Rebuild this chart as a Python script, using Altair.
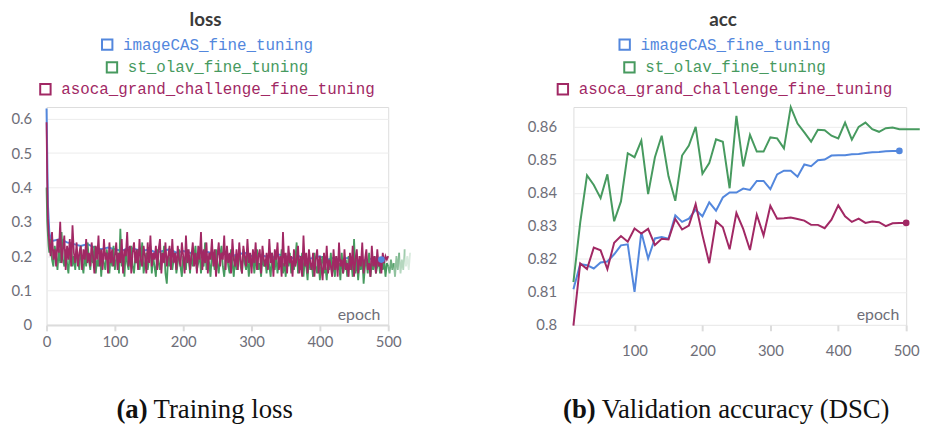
import altair as alt
import pandas as pd

RUNS = ["imageCAS_fine_tuning", "st_olav_fine_tuning", "asoca_grand_challenge_fine_tuning"]
COLORS = ["#5387DD", "#479A5F", "#A12864"]

# ---------------- training loss ----------------
loss_blue_epoch = [0, 2, 4, 6] + list(range(10, 500, 10))
loss_blue = [0.63, 0.35, 0.27, 0.25,
             0.245, 0.25, 0.24, 0.235, 0.23, 0.235, 0.225, 0.22, 0.225, 0.22,
             0.215, 0.225, 0.22, 0.215, 0.22, 0.21, 0.215, 0.22, 0.21, 0.215,
             0.21, 0.205, 0.215, 0.21, 0.205, 0.21, 0.20, 0.205, 0.21, 0.20,
             0.205, 0.20, 0.195, 0.205, 0.20, 0.195, 0.20, 0.19, 0.195, 0.20,
             0.19, 0.195, 0.19, 0.195, 0.19, 0.185, 0.19, 0.195, 0.19]

loss_epoch = [0, 1, 2, 3] + list(range(4, 502, 2))
loss_green = [0.40, 0.30, 0.26, 0.23,
              0.21, 0.25, 0.19, 0.17, 0.23, 0.20, 0.16, 0.22, 0.18, 0.27,
              0.19, 0.17, 0.22, 0.18, 0.15, 0.21, 0.24, 0.17, 0.20, 0.16,
              0.22, 0.19, 0.16, 0.23, 0.18, 0.15, 0.21, 0.17, 0.24, 0.19,
              0.16, 0.21, 0.18, 0.23, 0.15, 0.19, 0.17, 0.22, 0.14, 0.20,
              0.18, 0.16, 0.22, 0.19, 0.15, 0.21, 0.17, 0.23, 0.16, 0.19,
              0.21, 0.15, 0.28, 0.17, 0.20, 0.14, 0.22, 0.18, 0.16, 0.21,
              0.23, 0.17, 0.15, 0.20, 0.18, 0.22, 0.16, 0.19, 0.24, 0.15,
              0.18, 0.21, 0.16, 0.19, 0.23, 0.15, 0.20, 0.17, 0.14, 0.22,
              0.18, 0.16, 0.21, 0.19, 0.23, 0.15, 0.12, 0.20, 0.17, 0.22,
              0.16, 0.19, 0.21, 0.15, 0.18, 0.22, 0.17, 0.14, 0.20, 0.18,
              0.16, 0.22, 0.19, 0.15, 0.21, 0.17, 0.20, 0.23, 0.16, 0.18,
              0.21, 0.15, 0.19, 0.17, 0.24, 0.16, 0.20, 0.18, 0.14, 0.21,
              0.19, 0.16, 0.22, 0.18, 0.15, 0.20, 0.23, 0.17, 0.14, 0.19,
              0.21, 0.17, 0.15, 0.22, 0.18, 0.14, 0.20, 0.16, 0.19, 0.21,
              0.17, 0.15, 0.22, 0.18, 0.16, 0.20, 0.14, 0.19, 0.17, 0.21,
              0.15, 0.19, 0.22, 0.16, 0.18, 0.14, 0.21, 0.17, 0.19, 0.15,
              0.20, 0.17, 0.14, 0.21, 0.18, 0.16, 0.20, 0.15, 0.19, 0.17,
              0.22, 0.15, 0.18, 0.14, 0.20, 0.17, 0.21, 0.15, 0.18, 0.16,
              0.19, 0.24, 0.15, 0.18, 0.16, 0.21, 0.14, 0.19, 0.17, 0.13,
              0.20, 0.16, 0.18, 0.14, 0.21, 0.17, 0.15, 0.19, 0.13, 0.18,
              0.20, 0.15, 0.17, 0.13, 0.19, 0.16, 0.21, 0.15, 0.18, 0.14,
              0.20, 0.16, 0.18, 0.13, 0.21, 0.15, 0.17, 0.19, 0.14, 0.20,
              0.16, 0.18, 0.14, 0.25, 0.15, 0.19, 0.13, 0.18, 0.16, 0.20,
              0.12, 0.17, 0.19, 0.15, 0.21, 0.14, 0.18, 0.16, 0.20, 0.15,
              0.17, 0.19, 0.15, 0.18, 0.16, 0.19, 0.14, 0.18, 0.17]
loss_magenta = [0.59, 0.42, 0.31, 0.27,
                0.24, 0.20, 0.27, 0.19, 0.22, 0.17, 0.25, 0.21, 0.30, 0.18,
                0.22, 0.26, 0.16, 0.23, 0.19, 0.25, 0.17, 0.29, 0.21, 0.18,
                0.24, 0.17, 0.21, 0.23, 0.16, 0.22, 0.19, 0.25, 0.18, 0.21,
                0.17, 0.24, 0.20, 0.15, 0.23, 0.19, 0.26, 0.17, 0.22, 0.16,
                0.25, 0.19, 0.21, 0.15, 0.24, 0.18, 0.22, 0.17, 0.20, 0.24,
                0.16, 0.21, 0.18, 0.25, 0.15, 0.22, 0.20, 0.27, 0.17, 0.23,
                0.15, 0.21, 0.24, 0.18, 0.22, 0.16, 0.25, 0.19, 0.17, 0.23,
                0.20, 0.15, 0.24, 0.18, 0.26, 0.17, 0.21, 0.19, 0.23, 0.16,
                0.22, 0.25, 0.15, 0.21, 0.18, 0.24, 0.17, 0.20, 0.23, 0.16,
                0.25, 0.18, 0.21, 0.16, 0.23, 0.19, 0.17, 0.24, 0.20, 0.15,
                0.26, 0.18, 0.22, 0.16, 0.20, 0.24, 0.17, 0.21, 0.15, 0.23,
                0.19, 0.27, 0.16, 0.22, 0.18, 0.24, 0.15, 0.21, 0.19, 0.25,
                0.17, 0.22, 0.14, 0.20, 0.24, 0.17, 0.21, 0.19, 0.26, 0.16,
                0.23, 0.18, 0.21, 0.15, 0.25, 0.19, 0.17, 0.22, 0.16, 0.24,
                0.19, 0.15, 0.23, 0.20, 0.17, 0.25, 0.18, 0.21, 0.15, 0.22,
                0.18, 0.24, 0.16, 0.20, 0.22, 0.15, 0.23, 0.19, 0.17, 0.21,
                0.16, 0.25, 0.18, 0.21, 0.14, 0.22, 0.19, 0.24, 0.16, 0.20,
                0.14, 0.27, 0.17, 0.21, 0.15, 0.23, 0.18, 0.20, 0.14, 0.22,
                0.17, 0.19, 0.23, 0.15, 0.20, 0.14, 0.26, 0.17, 0.21, 0.15,
                0.22, 0.18, 0.16, 0.21, 0.14, 0.19, 0.22, 0.15, 0.20, 0.17,
                0.13, 0.21, 0.16, 0.23, 0.15, 0.19, 0.17, 0.14, 0.22, 0.16,
                0.20, 0.14, 0.24, 0.17, 0.19, 0.15, 0.22, 0.16, 0.18, 0.14,
                0.21, 0.16, 0.23, 0.14, 0.19, 0.22, 0.15, 0.20, 0.17, 0.24,
                0.15, 0.19, 0.22, 0.16, 0.18, 0.14, 0.23, 0.17, 0.20, 0.15,
                0.22, 0.17, 0.19, 0.15, 0.21, 0.18, 0.20, 0.19, 0.20]
# green run continues past epoch 500 (fading tail)
loss_green_tail_epoch = list(range(500, 534, 2))
loss_green_tail = [0.17, 0.15, 0.19, 0.16, 0.18, 0.14, 0.20, 0.16, 0.21,
                   0.15, 0.19, 0.16, 0.22, 0.17, 0.20, 0.16, 0.21]
TAIL_SEGMENTS = [(500, 508, 0.8), (508, 516, 0.6), (516, 524, 0.4), (524, 532, 0.2)]

# ---------------- validation accuracy ----------------
acc_epoch = list(range(10, 510, 10))
acc_blue = [0.8108, 0.8184, 0.8181, 0.8171, 0.8189, 0.8192, 0.8214, 0.8241, 0.8244, 0.8100,
            0.8281, 0.8201, 0.8262, 0.8266, 0.8261, 0.8332, 0.8312, 0.8322, 0.8349, 0.8329,
            0.8371, 0.8346, 0.8386, 0.8401, 0.8401, 0.8413, 0.8409, 0.8436, 0.8436, 0.8411,
            0.8456, 0.8467, 0.8467, 0.8449, 0.8486, 0.8481, 0.8499, 0.8501, 0.8513, 0.8514,
            0.8514, 0.8517, 0.8518, 0.8521, 0.8523, 0.8524, 0.8526, 0.8527, 0.8527]
acc_green_epoch = list(range(10, 530, 10))
acc_green = [0.8130, 0.8310, 0.8453, 0.8424, 0.8384, 0.8456, 0.8314, 0.8374, 0.8520, 0.8508,
             0.8558, 0.8396, 0.8508, 0.8573, 0.8450, 0.8376, 0.8513, 0.8543, 0.8600, 0.8458,
             0.8490, 0.8562, 0.8555, 0.8414, 0.8633, 0.8480, 0.8576, 0.8525, 0.8525, 0.8568,
             0.8565, 0.8535, 0.8660, 0.8610, 0.8583, 0.8555, 0.8591, 0.8590, 0.8573, 0.8565,
             0.8613, 0.8561, 0.8600, 0.8613, 0.8593, 0.8585, 0.8596, 0.8598, 0.8593, 0.8593,
             0.8593, 0.8593]
acc_magenta = [0.7998, 0.8186, 0.8169, 0.8234, 0.8226, 0.8169, 0.8249, 0.8269, 0.8252, 0.8292,
               0.8277, 0.8291, 0.8242, 0.8261, 0.8259, 0.8321, 0.8289, 0.8301, 0.8366, 0.8272,
               0.8187, 0.8314, 0.8296, 0.8229, 0.8339, 0.8291, 0.8227, 0.8334, 0.8271, 0.8361,
               0.8322, 0.8323, 0.8325, 0.8321, 0.8316, 0.8303, 0.8303, 0.8293, 0.8319, 0.8362,
               0.8329, 0.8312, 0.8322, 0.8309, 0.8313, 0.8311, 0.8299, 0.8308, 0.8309, 0.8309]

LOSS_TICKS = [0, 100, 200, 300, 400, 500]
LOSS_Y_TICKS = [0, 0.1, 0.2, 0.3, 0.4, 0.5, 0.6]
ACC_TICKS = [100, 200, 300, 400, 500]
ACC_Y_TICKS = [0.8, 0.81, 0.82, 0.83, 0.84, 0.85, 0.86]

LABEL_FONT = "Lato"
LABEL_COLOR = "#6e6e78"
GRID_COLOR = "#ececec"
MONO = "Liberation Mono"
SERIF = "Liberation Serif"
CW = 9.6  # mono char width at 16px


def series_df(epochs, values, run):
    return pd.DataFrame({"epoch": epochs, "value": values, "run": run})


def line_layer(df, xenc, yenc, color, width=2):
    return alt.Chart(df).mark_line(color=color, strokeWidth=width).encode(x=xenc, y=yenc)


def decorations(title, cx, cap_tag, cap_text, cap_x, epoch_x, epoch_y):
    layers = []
    layers.append(alt.Chart(pd.DataFrame({"t": [title]})).mark_text(
        font=LABEL_FONT, fontSize=19, fontWeight="bold", color="#3a3a3a",
        align="center", baseline="alphabetic").encode(
        text="t:N", x=alt.value(cx - 2), y=alt.value(-82)))
    rows_y = [-63, -40, -18]
    for name, col, ry in zip(RUNS, COLORS, rows_y):
        entry_w = 21.5 + len(name) * CW
        left = cx - entry_w / 2
        layers.append(alt.Chart(pd.DataFrame({"t": [name]})).mark_text(
            font=MONO, fontSize=16, color=col, align="left", baseline="middle").encode(
            text="t:N", x=alt.value(left + 21.5), y=alt.value(ry)))
        layers.append(alt.Chart(pd.DataFrame({"t": [name]})).mark_point(
            shape="square", filled=False, size=110, strokeWidth=2, color=col, opacity=1).encode(
            x=alt.value(left + 5.5), y=alt.value(ry)))
    layers.append(alt.Chart(pd.DataFrame({"t": ["epoch"]})).mark_text(
        font=LABEL_FONT, fontSize=16, color=LABEL_COLOR, align="right", baseline="middle").encode(
        text="t:N", x=alt.value(epoch_x), y=alt.value(epoch_y)))
    layers.append(alt.Chart(pd.DataFrame({"t": [cap_tag]})).mark_text(
        font=SERIF, fontSize=27, fontWeight="bold", color="#111111", align="right",
        baseline="alphabetic").encode(text="t:N", x=alt.value(cap_x), y=alt.value(314)))
    layers.append(alt.Chart(pd.DataFrame({"t": [cap_text]})).mark_text(
        font=SERIF, fontSize=27, color="#111111", align="left",
        baseline="alphabetic").encode(text="t:N", x=alt.value(cap_x + 6), y=alt.value(314)))
    return layers


# ---- loss panel ----
LW, LH = 345, 220
lx = alt.X("epoch:Q", scale=alt.Scale(domain=[0, 500], nice=False, zero=False),
           axis=alt.Axis(values=LOSS_TICKS, title=None, grid=False, domain=True,
                         domainColor="#dcdcdc", domainWidth=2, ticks=True, tickColor="#dcdcdc",
                         tickWidth=2, tickSize=6, labelPadding=4, labelFlush=False,
                         labelFont=LABEL_FONT, labelFontSize=15, labelColor=LABEL_COLOR))
ly = alt.Y("value:Q", scale=alt.Scale(domain=[0, 0.634], nice=False, zero=False),
           axis=alt.Axis(values=LOSS_Y_TICKS, format=".1~f", title=None, grid=True,
                         gridColor=GRID_COLOR, domain=False, ticks=False, labelPadding=15,
                         labelFont=LABEL_FONT, labelFontSize=15, labelColor=LABEL_COLOR))

tail_rows = []
for seg_i, (a, b, op) in enumerate(TAIL_SEGMENTS):
    for e, v in zip(loss_green_tail_epoch, loss_green_tail):
        if a <= e <= b:
            tail_rows.append({"epoch": e, "value": v, "seg": seg_i, "op": op})
tail_df = pd.DataFrame(tail_rows)

loss_layers = [
    line_layer(series_df(loss_blue_epoch, loss_blue, RUNS[0]), lx, ly, COLORS[0]),
    line_layer(series_df(loss_epoch, loss_green, RUNS[1]), lx, ly, COLORS[1], 1.8),
    alt.Chart(tail_df).mark_line(color=COLORS[1], strokeWidth=1.8).encode(
        x=lx, y=ly, detail="seg:N", opacity=alt.Opacity("op:Q", scale=None)),
    line_layer(series_df(loss_epoch, loss_magenta, RUNS[2]), lx, ly, COLORS[2], 1.8),
    alt.Chart(series_df(loss_blue_epoch[-1:], loss_blue[-1:], RUNS[0])).mark_circle(
        color=COLORS[0], size=45, opacity=1).encode(x=lx, y=ly),
]
loss_chart = alt.layer(*loss_layers, *decorations(
    "loss", 162.5, "(a)", "Training loss", 102, 337, 210)).properties(width=LW, height=LH)

# ---- acc panel ----
AW, AH = 336, 220
ax = alt.X("epoch:Q", scale=alt.Scale(domain=[10, 500], nice=False, zero=False),
           axis=alt.Axis(values=ACC_TICKS, title=None, grid=False, domain=False,
                         ticks=True, tickColor="#dcdcdc", tickWidth=2, tickSize=6,
                         labelPadding=13, labelFlush=False,
                         labelFont=LABEL_FONT, labelFontSize=15, labelColor=LABEL_COLOR))
ay = alt.Y("value:Q", scale=alt.Scale(domain=[0.8, 0.866], nice=False, zero=False),
           axis=alt.Axis(values=ACC_Y_TICKS, format=".2~f", title=None, grid=True,
                         gridColor=GRID_COLOR, domain=False, ticks=False, labelPadding=17,
                         labelFont=LABEL_FONT, labelFontSize=15, labelColor=LABEL_COLOR))

acc_layers = [
    line_layer(series_df(acc_epoch[:len(acc_blue)], acc_blue, RUNS[0]), ax, ay, COLORS[0]),
    line_layer(series_df(acc_green_epoch, acc_green, RUNS[1]), ax, ay, COLORS[1]),
    line_layer(series_df(acc_epoch, acc_magenta, RUNS[2]), ax, ay, COLORS[2]),
    alt.Chart(series_df([acc_epoch[len(acc_blue) - 1]], [acc_blue[-1]], RUNS[0])).mark_circle(
        color=COLORS[0], size=45, opacity=1).encode(x=ax, y=ay),
    alt.Chart(series_df([acc_epoch[-1]], [acc_magenta[-1]], RUNS[2])).mark_circle(
        color=COLORS[2], size=45, opacity=1).encode(x=ax, y=ay),
]
acc_chart = alt.layer(*acc_layers, *decorations(
    "acc", 153, "(b)", "Validation accuracy (DSC)", 22.5, 329, 210)).properties(width=AW, height=AH)

chart = alt.hconcat(loss_chart, acc_chart, spacing=112).properties(
    padding={"left": 10, "top": 8, "right": 0, "bottom": 0}
).configure_view(stroke=None).configure(background="white")

chart.save("out.html", embed_options={"renderer": "svg", "actions": False})
